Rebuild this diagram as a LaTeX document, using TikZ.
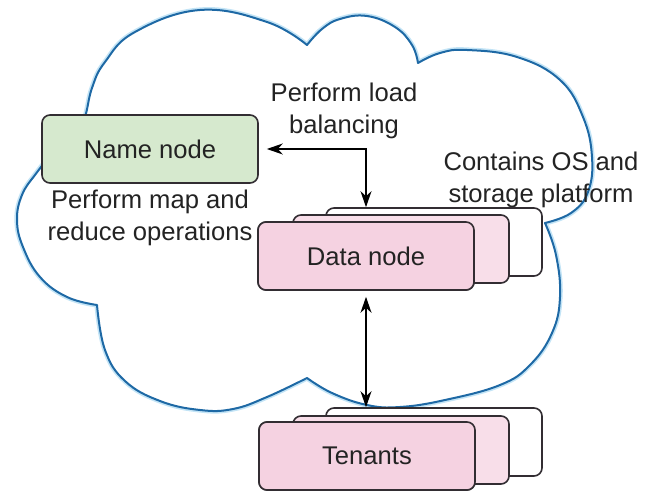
\documentclass[tikz,border=0pt]{standalone}
\usepackage{fontspec}
\setmainfont{Liberation Sans}
\usetikzlibrary{calc}
\usetikzlibrary{positioning}
\usetikzlibrary{arrows.meta}

\definecolor{cloudblue}{RGB}{30,105,165}
\definecolor{cloudhalo}{RGB}{195,228,246}
\definecolor{namegreen}{RGB}{214,233,206}
\definecolor{pinkfront}{RGB}{245,210,225}
\definecolor{pinkmid}{RGB}{248,222,233}
\definecolor{boxline}{RGB}{50,45,50}
\definecolor{textgray}{RGB}{35,35,35}

\begin{document}
\begin{tikzpicture}[
        x=0.5pt, y=-0.5pt,
        >={Stealth[length=8pt,width=5.5pt,inset=2.5pt]},
        every node/.style={font=\fontsize{12.8}{16}\selectfont, text=textgray},
        box/.style={draw=boxline, line width=0.8pt, rounded corners=4pt,
            minimum width=108pt, minimum height=34pt, inner sep=0pt},
        note/.style={align=center},
        link/.style={<->, line width=0.75pt}]

        \useasboundingbox (0,0) rectangle (653,491);

        % cloud
        \draw[cloudblue, line width=1pt, line join=round, fill=white,
            preaction={draw=cloudhalo, line width=2.6pt}]
            plot[smooth, tension=0.7] coordinates {(70,148) (84,120) (92,88) (105,62) (135,32) (200,10) (267,22) (307,45)}
            -- plot[smooth, tension=0.7] coordinates {(307,45) (322,29) (340,19) (367,16) (395,27) (412,45) (418,63)}
            -- plot[smooth, tension=0.7] coordinates {(418,63) (440,53) (467,50) (517,57) (560,80) (583,117) (592,157) (588,192) (571,213) (545,223)}
            -- plot[smooth, tension=0.7] coordinates {(545,223) (556,255) (560,297) (552,333) (530,365) (500,385) (445,400) (400,407) (367,405) (332,393) (307,378)}
            -- plot[smooth, tension=0.7] coordinates {(307,378) (267,397) (233,409) (200,410) (160,401) (125,381) (105,350) (97,305)}
            -- plot[smooth, tension=0.7] coordinates {(97,305) (67,297) (40,277) (23,247) (17,220) (22,195) (35,175) (50,158) (70,148)}
            -- cycle;

        % notes
        \node[note] (loadtxt) at (344,111) {Perform load\\balancing};
        \node[note] (maptxt) at (150,218) {Perform map and\\reduce operations};
        \node[note] (ostxt) at (541,180) {Contains OS and\\storage platform};

        % boxes
        \node[box, fill=namegreen] (name) at (150,149) {Name node};

        \node[box, fill=pinkfront] (data) at (366,256) {Data node};
        \node[box, fill=white] (data3) at ($(data)+(68,-14)$) {};
        \node[box, fill=pinkmid] (data2) at ($(data)+(35,-7)$) {};
        \node[box, fill=pinkfront] at (data) {Data node};

        \node[box, fill=pinkfront] (tenants) at (367,456) {Tenants};
        \node[box, fill=white] (tenants3) at ($(tenants)+(67,-14)$) {};
        \node[box, fill=pinkmid] (tenants2) at ($(tenants)+(34,-6)$) {};
        \node[box, fill=pinkfront] at (tenants) {Tenants};

        % links
        \draw[link, shorten <=4pt] (name.east) -| (data.north |- data3.north);
        \draw[link, shorten <=3pt] (data.south) -- (data.south |- tenants3.north);

    \end{tikzpicture}
\end{document}
